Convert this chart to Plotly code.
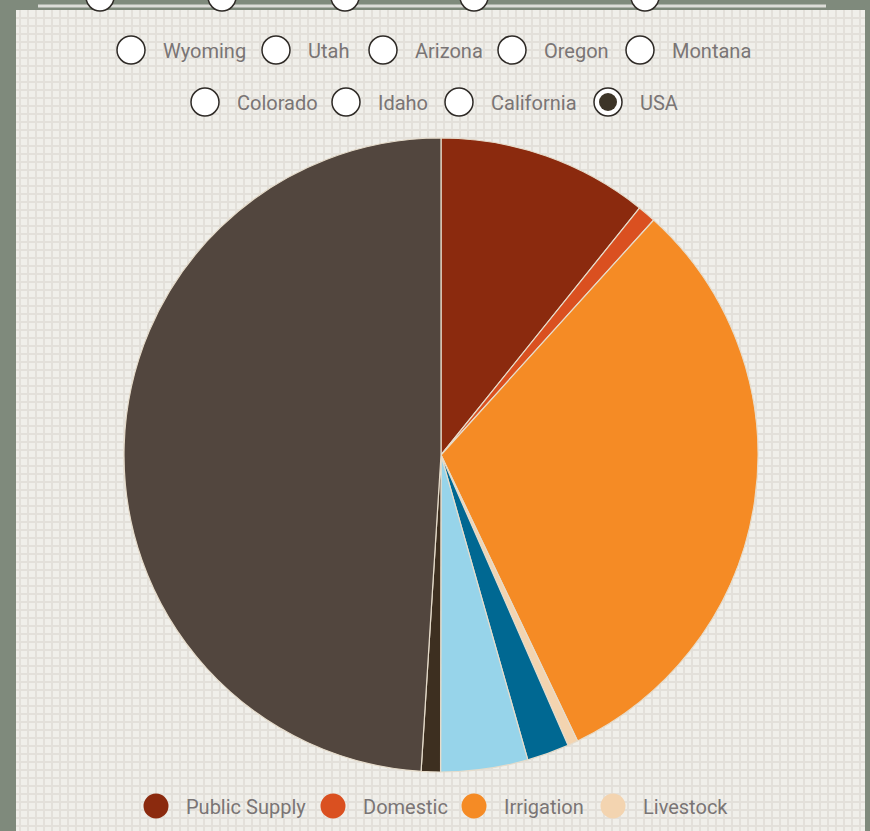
import plotly.graph_objects as go

# ---- data ----
categories = ["Public Supply", "Domestic", "Irrigation", "Livestock",
              "Aquaculture", "Industrial", "Mining", "Thermoelectric"]
withdrawals = [44.2, 3.83, 128, 2.14, 8.83, 18.2, 4.02, 201]  # Bgal/d, USA
slice_colors = ["#8B2A0E", "#DA5020", "#F58B25", "#F3D4B0",
                "#006892", "#97D4EA", "#3D2F20", "#52463E"]
legend_visible = 4

region_row1 = ["Wyoming", "Utah", "Arizona", "Oregon", "Montana"]
region_row2 = ["Colorado", "Idaho", "California", "USA"]
selected_region = "USA"

# ---- layout helpers ----
W, H = 870, 831
def px(x):
    return x / W
def py(y):
    return 1 - y / H

FONT = "Roboto, DejaVu Sans Condensed, sans-serif"
TEXT_COL = "#7a7575"

shapes = []
annotations = []

# panel
shapes.append(dict(type="rect", xref="paper", yref="paper", layer="below",
                   x0=px(16), x1=px(865), y0=py(H + 5), y1=py(10),
                   fillcolor="#f0efea", line=dict(width=0)))
# grid
gx = 20
while gx < 865:
    shapes.append(dict(type="line", xref="paper", yref="paper", layer="below",
                       x0=px(gx), x1=px(gx), y0=py(H + 5), y1=py(10),
                       line=dict(color="#e3e0da", width=2)))
    gx += 8
gy = 18
while gy < H + 5:
    shapes.append(dict(type="line", xref="paper", yref="paper", layer="below",
                       x0=px(16), x1=px(865), y0=py(gy), y1=py(gy),
                       line=dict(color="#e3e0da", width=2)))
    gy += 8
# top white rule
shapes.append(dict(type="line", xref="paper", yref="paper",
                   x0=px(38), x1=px(826), y0=py(6), y1=py(6),
                   line=dict(color="#dcdcd8", width=3)))

def radio(cx, cy, selected=False, r=14):
    shapes.append(dict(type="circle", xref="paper", yref="paper",
                       x0=px(cx - r), x1=px(cx + r), y0=py(cy + r), y1=py(cy - r),
                       fillcolor="white", line=dict(color="#2e2a26", width=1.5)))
    if selected:
        ri = 9
        shapes.append(dict(type="circle", xref="paper", yref="paper",
                           x0=px(cx - ri), x1=px(cx + ri), y0=py(cy + ri), y1=py(cy - ri),
                           fillcolor="#3d3528", line=dict(width=0)))

def label(x, y, text, size=20, color=TEXT_COL):
    annotations.append(dict(xref="paper", yref="paper", x=px(x), y=py(y),
                            xanchor="left", yanchor="middle", showarrow=False,
                            text=text, font=dict(family=FONT, size=size, color=color)))

# partially visible top row
for cx in [100, 222, 345, 474, 645]:
    radio(cx, -3)

row1_circles = [131, 276, 383, 512, 640]
for cx, name in zip(row1_circles, region_row1):
    radio(cx, 50, name == selected_region)
    label(cx + 30, 51, name)

row2_circles = [205, 346, 459, 608]
for cx, name in zip(row2_circles, region_row2):
    radio(cx, 102, name == selected_region)
    label(cx + 30, 103, name)

# custom legend (only first row visible)
legend_x = [156, 333, 474, 613]
for i in range(legend_visible):
    lx, ly, r = legend_x[i], 806, 12.5
    shapes.append(dict(type="circle", xref="paper", yref="paper",
                       x0=px(lx - r), x1=px(lx + r), y0=py(ly + r), y1=py(ly - r),
                       fillcolor=slice_colors[i], line=dict(width=0)))
    label(lx + 28, 807, categories[i])

# pie geometry
cx, cy, R = 441, 455, 317
fig = go.Figure(go.Pie(
    labels=categories, values=withdrawals, sort=False,
    direction="clockwise", rotation=0,
    marker=dict(colors=slice_colors, line=dict(color="#e6dccb", width=1.2)),
    textinfo="none", hoverinfo="label+percent", showlegend=False,
    domain=dict(x=[px(cx - R), px(cx + R)], y=[py(cy + R), py(cy - R)]),
))

fig.update_layout(
    width=W, height=H,
    margin=dict(l=0, r=0, t=0, b=0),
    paper_bgcolor="#7f8a7c",
    plot_bgcolor="#7f8a7c",
    shapes=shapes,
    annotations=annotations,
    showlegend=False,
)

fig.write_html("out.html")
